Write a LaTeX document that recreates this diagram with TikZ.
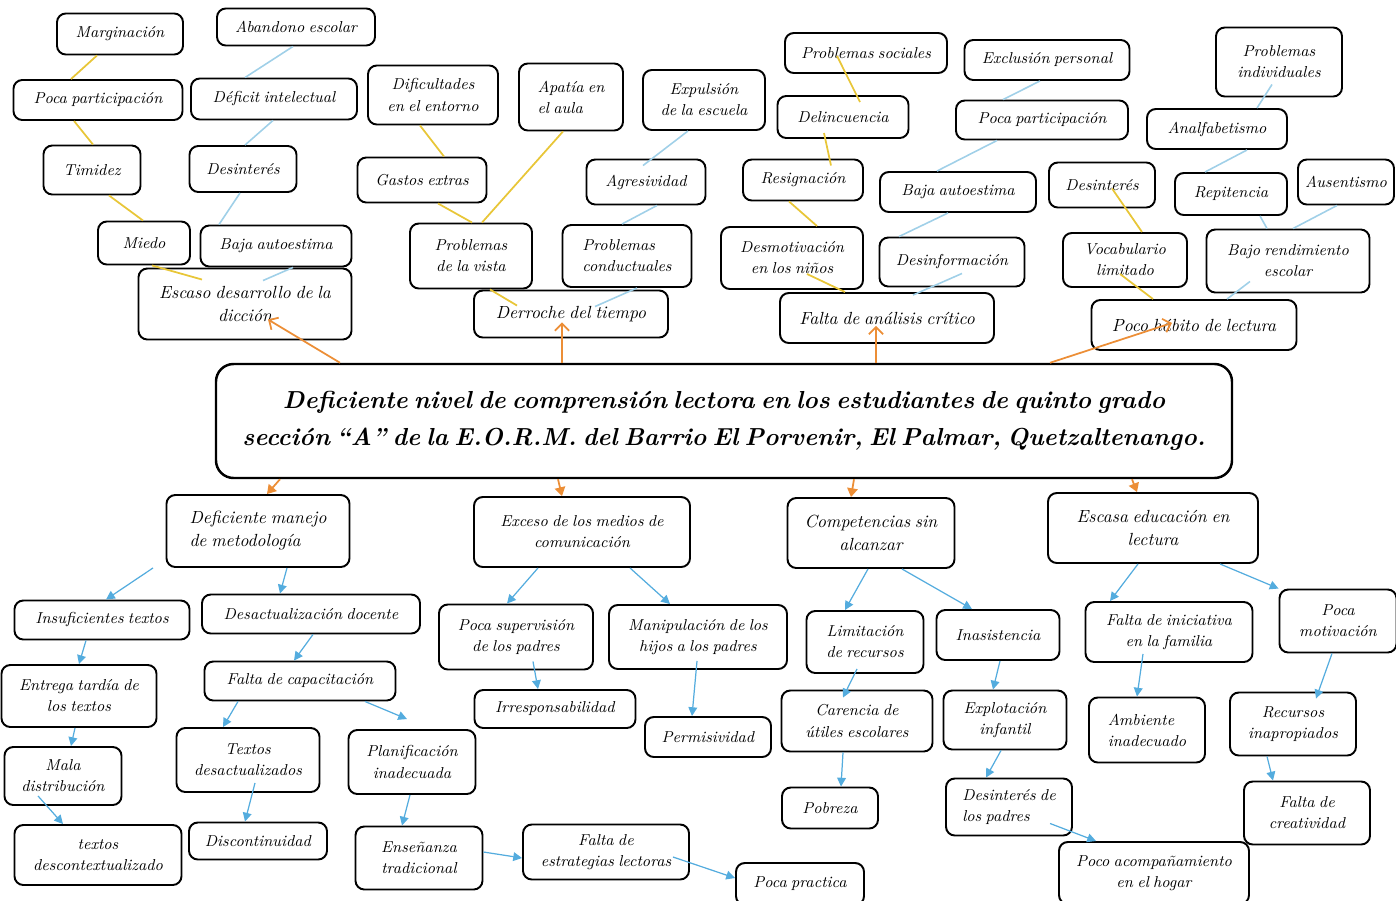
\documentclass[tikz,border=0pt]{standalone}
\usepackage{amsmath}
\usepackage{xcolor}
\usetikzlibrary{arrows.meta,calc}
\definecolor{lineyel}{RGB}{232,198,56}
\definecolor{lineblu}{RGB}{160,208,232}
\definecolor{arrblu}{RGB}{84,172,222}
\definecolor{arrora}{RGB}{236,142,54}

\begin{document}
\begin{tikzpicture}[
    x=0.02cm, y=-0.02cm,
    box/.style={draw=black, line width=1.1pt, rounded corners=5pt, align=center, inner sep=2pt,
        font={\fontsize{9}{12}\selectfont\itshape\spaceskip=0.27em plus 0.1em minus 0.05em\relax}},
    lvl/.style={font={\fontsize{10}{13}\selectfont\itshape\spaceskip=0.27em plus 0.1em minus 0.05em\relax}},
    sz/.style 2 args={minimum width=#1*0.02cm, minimum height=#2*0.02cm},
    yel/.style={draw=lineyel, line width=1pt},
    blu/.style={draw=lineblu, line width=0.9pt},
    barr/.style={draw=arrblu, line width=0.7pt, -{Triangle[length=5pt, width=5pt]}},
    oarr/.style={draw=arrora, line width=1pt, -{Straight Barb[length=4pt, width=8pt]}},
    otri/.style={draw=arrora, line width=1pt, -{Triangle[length=5pt, width=6pt]}}]
    \useasboundingbox (0,0) rectangle (1396,900);

    % NODES
    % main problem
    \node[box, sz={1016}{114}, rounded corners=10pt, line width=1.4pt,
        font={\fontsize{14}{21}\selectfont\bfseries\itshape\spaceskip=0.25em plus 0.1em minus 0.05em\relax}] (main) at (724,421)
        {Deficiente nivel de comprensión lectora en los estudiantes de quinto grado\\
         sección “A” de la E.O.R.M. del Barrio El Porvenir, El Palmar, Quetzaltenango.};

    % effects, left
    \node[box, sz={126}{41}] (marg) at (120,34) {Marginación};
    \node[box, sz={158}{37}] (aband) at (296,27) {Abandono escolar};
    \node[box, sz={169}{40}] (pocaA) at (98,100) {Poca participación};
    \node[box, sz={166}{41}] (defic) at (274,99) {Déficit intelectual};
    \node[box, sz={97}{49}] (timid) at (92,170) {Timidez};
    \node[box, sz={107}{46}] (desA) at (243,169) {Desinterés};
    \node[box, sz={92}{43}] (miedo) at (144,243) {Miedo};
    \node[box, sz={151}{41}] (bajaA) at (276,246) {Baja autoestima};
    \node[box, lvl, sz={213}{71}] (escaso) at (245,304) {Escaso desarrollo de la\\dicción};

    % effects, middle
    \node[box, sz={130}{59}] (dific) at (433,95) {Dificultades\\en el entorno};
    \node[box, sz={104}{67}, align=left] (apatia) at (571,97) {Apatía en\\el aula};
    \node[box, sz={122}{60}] (expul) at (704,100) {Expulsión\\de la escuela};
    \node[box, sz={129}{45}] (gastos) at (422,180) {Gastos extras};
    \node[box, sz={119}{45}] (agres) at (646,182) {Agresividad};
    \node[box, sz={122}{65}] (vista) at (471,256) {Problemas\\de la vista};
    \node[box, sz={129}{62}, align=left] (conduct) at (627,256) {Problemas\\conductuales};
    \node[box, lvl, sz={194}{47}] (derroche) at (571,314) {Derroche del tiempo};

    \node[box, sz={162}{40}] (social) at (866,53) {Problemas sociales};
    \node[box, sz={131}{42}] (delinc) at (843,117) {Delincuencia};
    \node[box, sz={120}{41}] (resig) at (803,180) {Resignación};
    \node[box, sz={142}{62}] (desmot) at (792,258) {Desmotivación\\en los niños};
    \node[box, sz={156}{40}] (bajaB) at (958,192) {Baja autoestima};
    \node[box, sz={145}{49}] (desinf) at (952,262) {Desinformación};
    \node[box, lvl, sz={214}{50}] (critico) at (887,318) {Falta de análisis crítico};
    \node[box, sz={165}{40}] (exclu) at (1047,60) {Exclusión personal};
    \node[box, sz={172}{39}] (pocaB) at (1042,120) {Poca participación};

    % effects, right
    \node[box, sz={126}{69}] (indiv) at (1279,62) {Problemas\\individuales};
    \node[box, sz={140}{40}] (analf) at (1217,129) {Analfabetismo};
    \node[box, sz={106}{45}] (desB) at (1102,185) {Desinterés};
    \node[box, sz={112}{42}] (repit) at (1231,194) {Repitencia};
    \node[box, sz={96}{45}] (ausen) at (1346,182) {Ausentismo};
    \node[box, sz={124}{54}] (vocab) at (1125,260) {Vocabulario\\limitado};
    \node[box, sz={163}{63}] (bajoR) at (1288,261) {Bajo rendimiento\\escolar};
    \node[box, lvl, sz={205}{50}] (habito) at (1194,325) {Poco hábito de lectura};

    % causes
    \node[box, lvl, sz={183}{72}, align=left] (metodo) at (258,531) {Deficiente manejo\\de metodología};
    \node[box, sz={216}{70}] (medios) at (582,532) {Exceso de los medios de\\comunicación};
    \node[box, lvl, sz={167}{70}] (compet) at (871,533) {Competencias sin\\alcanzar};
    \node[box, lvl, sz={210}{70}] (escasa) at (1153,528) {Escasa educación en\\lectura};

    % causes, left
    \node[box, sz={175}{39}] (insuf) at (102,620) {Insuficientes textos};
    \node[box, sz={218}{39}] (desact) at (311,614) {Desactualización docente};
    \node[box, sz={155}{62}] (entrega) at (79,696) {Entrega tardía de\\los textos};
    \node[box, sz={191}{39}] (capac) at (300,681) {Falta de capacitación};
    \node[box, sz={117}{58}] (mala) at (63,776) {Mala\\distribución};
    \node[box, sz={143}{64}] (txdes) at (248,760) {Textos\\desactualizados};
    \node[box, sz={127}{64}] (planif) at (412,762) {Planificación\\inadecuada};
    \node[box, sz={167}{60}] (descon) at (98,855) {textos\\descontextualizado};
    \node[box, sz={138}{37}] (discon) at (258,841) {Discontinuidad};
    \node[box, sz={127}{63}] (ensen) at (419,858) {Enseñanza\\tradicional};

    % causes, middle
    \node[box, sz={154}{65}] (superv) at (516,637) {Poca supervisión\\de los padres};
    \node[box, sz={178}{64}] (manip) at (698,637) {Manipulación de los\\hijos a los padres};
    \node[box, sz={161}{38}] (irresp) at (555,709) {Irresponsabilidad};
    \node[box, sz={126}{40}] (permis) at (708,737) {Permisividad};
    \node[box, sz={166}{55}] (estrat) at (606,852) {Falta de\\estrategias lectoras};
    \node[box, sz={128}{42}] (practica) at (800,884) {Poca practica};

    \node[box, sz={117}{62}] (limit) at (865,642) {Limitación\\de recursos};
    \node[box, sz={151}{61}] (carenc) at (857,721) {Carencia de\\útiles escolares};
    \node[box, sz={96}{41}] (pobre) at (830,808) {Pobreza};
    \node[box, sz={123}{50}] (inasis) at (998,635) {Inasistencia};
    \node[box, sz={123}{59}] (explot) at (1005,720) {Explotación\\infantil};
    \node[box, sz={126}{57}, align=left] (desC) at (1009,807) {Desinterés de\\los padres};
    \node[box, sz={190}{62}] (acomp) at (1154,873) {Poco acompañamiento\\en el hogar};

    % causes, right
    \node[box, sz={167}{60}] (inic) at (1169,632) {Falta de iniciativa\\en la familia};
    \node[box, sz={117}{63}] (motiv) at (1338,621) {Poca\\motivación};
    \node[box, sz={116}{65}, align=left] (ambien) at (1147,730) {Ambiente\\inadecuado};
    \node[box, sz={126}{63}] (recur) at (1293,724) {Recursos\\inapropiados};
    \node[box, sz={126}{63}] (creat) at (1307,813) {Falta de\\creatividad};

    % LINES
    \draw[yel] (marg.south -| 97,0) -- (pocaA.north -| 71,0);
    \draw[yel] (pocaA.south -| 74,0) -- (timid.north -| 93,0);
    \draw[yel] (timid.south -| 109,0) -- (miedo.north -| 143,0);
    \draw[yel] (miedo.south -| 152,0) -- ($(escaso.north -| 202,0)+(0,12)$);
    \draw[blu] (aband.south -| 293,0) -- (defic.north -| 245,0);
    \draw[blu] (defic.south -| 273,0) -- (desA.north -| 245,0);
    \draw[blu] (desA.south -| 240,0) -- (bajaA.north -| 219,0);
    \draw[blu] (bajaA.south -| 293,0) -- ($(escaso.north -| 263,0)+(0,13)$);

    \draw[yel] (dific.south -| 420,0) -- (gastos.north -| 444,0);
    \draw[yel] (gastos.south -| 438,0) -- (vista.north -| 472,0);
    \draw[yel] (apatia.south -| 563,0) -- (vista.north -| 482,0);
    \draw[yel] (vista.south -| 490,0) -- ($(derroche.north -| 517,0)+(0,16)$);
    \draw[blu] (expul.south -| 688,0) -- ($(agres.north -| 643,0)+(0,7)$);
    \draw[blu] (agres.south -| 657,0) -- (conduct.north -| 622,0);
    \draw[blu] (conduct.south -| 637,0) -- ($(derroche.north -| 595,0)+(0,17)$);

    \draw[yel] ($(social.south -| 837,0)+(0,-18)$) -- ($(delinc.north -| 860,0)+(0,7)$);
    \draw[yel] ($(delinc.south -| 824,0)+(0,-6)$) -- ($(resig.north -| 831,0)+(0,7)$);
    \draw[yel] (resig.south -| 789,0) -- (desmot.north -| 817,0);
    \draw[yel] ($(desmot.south -| 807,0)+(0,-16)$) -- (critico.north -| 845,0);
    \draw[blu] (exclu.south -| 1040,0) -- (pocaB.north -| 1003,0);
    \draw[blu] (pocaB.south -| 997,0) -- (bajaB.north -| 937,0);
    \draw[blu] (bajaB.south -| 948,0) -- (desinf.north -| 899,0);
    \draw[blu] ($(desinf.south -| 962,0)+(0,-14)$) -- ($(critico.north -| 913,0)+(0,3)$);

    \draw[blu] ($(indiv.south -| 1272,0)+(0,-13)$) -- (analf.north -| 1257,0);
    \draw[blu] (analf.south -| 1247,0) -- (repit.north -| 1205,0);
    \draw[blu] (repit.south -| 1260,0) -- (bajoR.north -| 1267,0);
    \draw[blu] (ausen.south -| 1337,0) -- (bajoR.north -| 1293,0);
    \draw[blu] ($(bajoR.south -| 1250,0)+(0,-12)$) -- (habito.north -| 1227,0);
    \draw[yel] ($(desB.south -| 1112,0)+(0,-20)$) -- (vocab.north -| 1142,0);
    \draw[yel] ($(vocab.south -| 1120,0)+(0,-14)$) -- (habito.north -| 1153,0);

    % ARROWS
    \draw[oarr] (main.north -| 340,0) -- ($(escaso.south -| 268,0)+(0,-21)$);
    \draw[oarr] (main.north -| 562,0) -- ($(derroche.south -| 562,0)+(0,-16)$);
    \draw[oarr] (main.north -| 876,0) -- ($(critico.south -| 876,0)+(0,-18)$);
    \draw[oarr] (main.north -| 1050,0) -- ($(habito.south -| 1172,0)+(0,-28)$);

    \draw[otri] (main.south -| 280,0) -- (metodo.north -| 267,0);
    \draw[otri] (main.south -| 558,0) -- (medios.north -| 562,0);
    \draw[otri] (main.south -| 854,0) -- (compet.north -| 851,0);
    \draw[otri] (main.south -| 1132,0) -- (escasa.north -| 1137,0);

    \draw[barr] (metodo.south -| 153,0) -- (insuf.north -| 106,0);
    \draw[barr] (metodo.south -| 287,0) -- (desact.north -| 280,0);
    \draw[barr] (insuf.south -| 86,0) -- (entrega.north -| 79,0);
    \draw[barr] (desact.south -| 313,0) -- (capac.north -| 294,0);
    \draw[barr] (entrega.south -| 75,0) -- (mala.north -| 71,0);
    \draw[barr] (capac.south -| 238,0) -- (txdes.north -| 223,0);
    \draw[barr] (capac.south -| 365,0) -- ($(planif.north -| 407,0)+(0,-10)$);
    \draw[barr] ($(mala.south -| 38,0)+(0,-10)$) -- (descon.north -| 63,0);
    \draw[barr] ($(txdes.south -| 255,0)+(0,-10)$) -- (discon.north -| 245,0);
    \draw[barr] (planif.south -| 410,0) -- (ensen.north -| 402,0);
    \draw[barr] (ensen.east |- 0,852) -- (estrat.west |- 0,858);

    \draw[barr] (medios.south -| 538,0) -- (superv.north -| 507,0);
    \draw[barr] (medios.south -| 630,0) -- (manip.north -| 670,0);
    \draw[barr] ($(superv.south -| 533,0)+(0,-9)$) -- (irresp.north -| 538,0);
    \draw[barr] ($(manip.south -| 697,0)+(0,-9)$) -- (permis.north -| 692,0);
    \draw[barr] ($(estrat.east |- 0,857)+(-17,0)$) -- (practica.west |- 0,878);

    \draw[barr] (compet.south -| 868,0) -- (limit.north -| 845,0);
    \draw[barr] ($(limit.south -| 857,0)+(0,-5)$) -- ($(carenc.north -| 843,0)+(0,8)$);
    \draw[barr] (carenc.south -| 843,0) -- (pobre.north -| 841,0);
    \draw[barr] (compet.south -| 902,0) -- (inasis.north -| 972,0);
    \draw[barr] (inasis.south -| 1000,0) -- (explot.north -| 993,0);
    \draw[barr] (explot.south -| 1001,0) -- (desC.north -| 986,0);
    \draw[barr] ($(desC.south -| 1050,0)+(0,-13)$) -- (acomp.north -| 1096,0);

    \draw[barr] (escasa.south -| 1138,0) -- (inic.north -| 1110,0);
    \draw[barr] (escasa.south -| 1220,0) -- (motiv.north west);
    \draw[barr] ($(inic.south -| 1143,0)+(0,-9)$) -- (ambien.north -| 1137,0);
    \draw[barr] (motiv.south -| 1332,0) -- ($(recur.north -| 1316,0)+(0,7)$);
    \draw[barr] (recur.south -| 1267,0) -- (creat.north -| 1273,0);
\end{tikzpicture}
\end{document}
